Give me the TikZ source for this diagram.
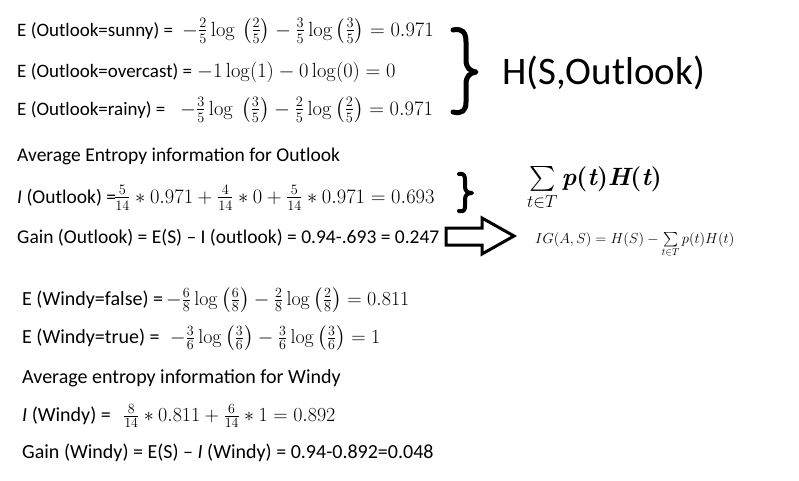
\RequirePackage{fix-cm}
\documentclass[tikz,border=0pt]{standalone}
\usepackage{amsmath}
\usepackage[no-math]{fontspec}
\setmainfont{Carlito}
\newfontfamily\lmfont{Latin Modern Roman}
\newcommand{\bi}[1]{{\lmfont\bfseries\itshape #1}}
\newcommand{\bu}[1]{{\lmfont\bfseries #1}}
\tikzset{
  txt/.style={anchor=base west, inner sep=0pt, font=\fontsize{20}{23}\selectfont},
  txto/.style={anchor=base west, inner sep=0pt, font=\fontsize{19.5}{23}\selectfont},
  txte/.style={anchor=base west, inner sep=0pt, font=\fontsize{19}{23}\selectfont},
  mth/.style={anchor=base west, inner sep=0pt, font=\fontsize{20.5}{23}\selectfont},
  mthw/.style={anchor=base west, inner sep=0pt, font=\fontsize{20}{23}\selectfont},
  bracepath/.style={line width=5pt, line cap=round, line join=round},
  blockarrow/.style={draw=black, line width=3pt, line join=miter, fill=white}
}
\begin{document}
\begin{tikzpicture}[x=1pt, y=-1pt]
\useasboundingbox[fill=white] (0,0) rectangle (799,480);
% Outlook entropies
\node[txte] (sunny) at (17,36) {E (Outlook=sunny) =};
\node[mth] (sunnym) at (182,36) {$-\tfrac{2}{5}\log\,\left(\tfrac{2}{5}\right)-\tfrac{3}{5}\log\left(\tfrac{3}{5}\right)=0.971$};
\node[txte] (over) at (17,77) {E (Outlook=overcast) =};
\node[mth] (overm) at (197,77) {$-1\log(1)-0\log(0)=0$};
\node[txte] (rainy) at (17,115) {E (Outlook=rainy) =};
\node[mth] (rainym) at (180,115) {$-\tfrac{3}{5}\log\ \left(\tfrac{3}{5}\right)-\tfrac{2}{5}\log\left(\tfrac{2}{5}\right)=0.971$};
\node[txto] (avgO) at (17,161) {Average Entropy information for Outlook};
\node[txto] (IO) at (17,203) {\textit{I} (Outlook) =};
\node[mth] (IOm) at (114,203) {$\tfrac{5}{14}\ast0.971+\tfrac{4}{14}\ast0+\tfrac{5}{14}\ast0.971=0.693$};
\node[txto] (gainO) at (17,243) {Gain (Outlook) = E(S) -- I (outlook) = 0.94-.693 = 0.247};
% braces
\draw[bracepath] (453,30) .. controls (462,28) and (466,32) .. (466,42) -- (466,60)
  .. controls (466,68) and (470,71) .. (476,72)
  .. controls (470,73) and (466,76) .. (466,84) -- (466,102)
  .. controls (466,111) and (462,114) .. (453,112);
\draw[bracepath, line width=4pt] (459,174) .. controls (464,173) and (465,176) .. (465,180) -- (465,187)
  .. controls (465,191) and (468,193) .. (472,193)
  .. controls (468,193) and (465,195) .. (465,199) -- (465,206)
  .. controls (465,210) and (464,212) .. (459,211);
\node[anchor=west, inner sep=0pt, font=\fontsize{39}{42}\selectfont] (HS) at (502,73) {H(S,Outlook)};
\node[anchor=base west, inner sep=0pt, font=\fontsize{25}{28}\selectfont] (sumnode) at (527,185) {$\textstyle\sum\limits_{t\in T}$\,\bi{p}\bu{(}\bi{t}\bu{)}\bi{H}\bu{(}\bi{t}\bu{)}};
% arrow
\draw[blockarrow] (446,228) -- (482,228) -- (482,218) -- (514,236) -- (482,254) -- (482,245) -- (446,245) -- cycle;
\node[anchor=base west, inner sep=0pt, font=\fontsize{14.5}{16}\selectfont] (IG) at (535,243) {$IG(A,S)=H(S)-\sum\limits_{t\in T}p(t)H(t)$};
% Windy
\node[txt] (wf) at (22,305) {E (Windy=false) =};
\node[mthw] (wfm) at (166,305) {$-\tfrac{6}{8}\log\left(\tfrac{6}{8}\right)-\tfrac{2}{8}\log\left(\tfrac{2}{8}\right)=0.811$};
\node[txt] (wt) at (22,343) {E (Windy=true) =};
\node[mthw] (wtm) at (170,343) {$-\tfrac{3}{6}\log\left(\tfrac{3}{6}\right)-\tfrac{3}{6}\log\left(\tfrac{3}{6}\right)=1$};
\node[txt] (avgW) at (22,383) {Average entropy information for Windy};
\node[txt] (IW) at (22,421) {\textit{I} (Windy) =};
\node[mthw] (IWm) at (123,421) {$\tfrac{8}{14}\ast0.811+\tfrac{6}{14}\ast1=0.892$};
\node[txt] (gainW) at (22,458) {Gain (Windy) = E(S) -- \textit{I} (Windy) = 0.94-0.892=0.048};
\end{tikzpicture}
\end{document}
